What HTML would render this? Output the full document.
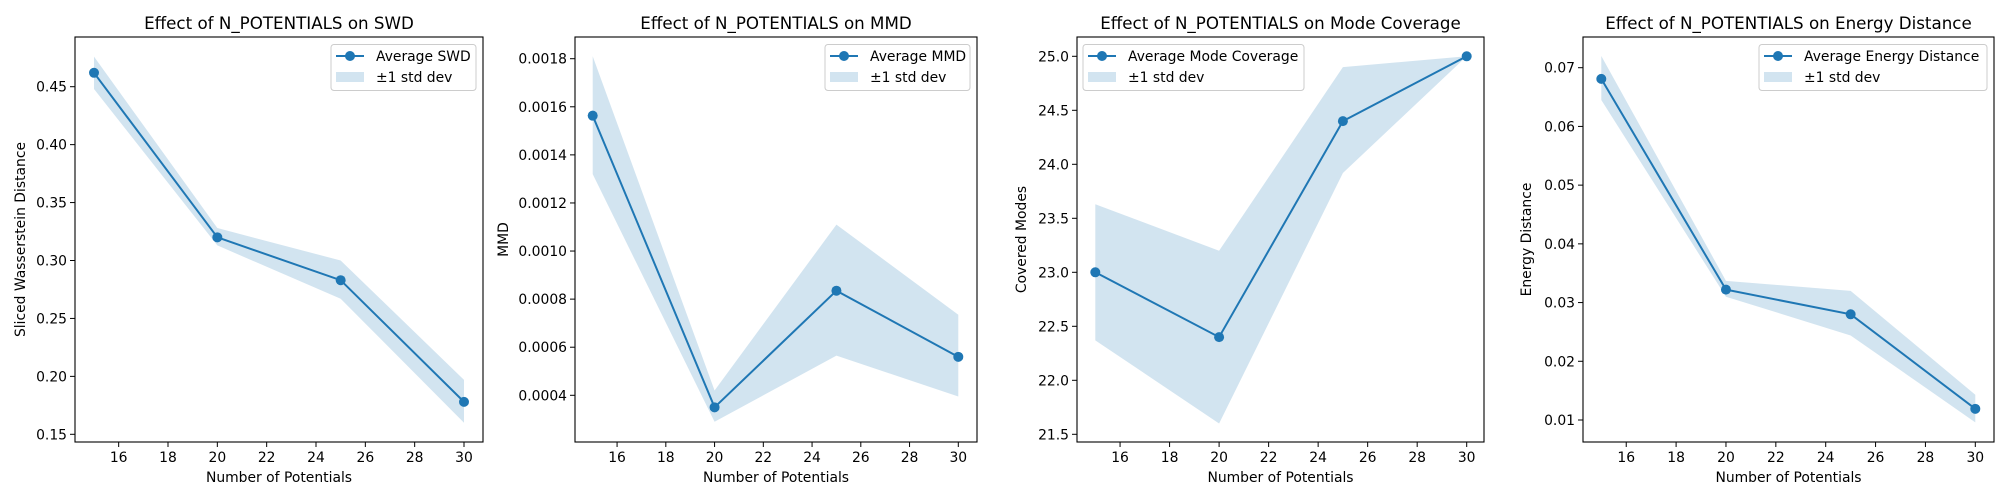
<!DOCTYPE html>
<html><head><meta charset="utf-8"><style>
html,body{margin:0;padding:0;background:#fff;}
svg{display:block;font-family:"DejaVu Sans","Liberation Sans",sans-serif;}
</style></head><body>
<svg id="fig" width="2000" height="500" viewBox="0 0 2000 500"></svg>
<script>
const xValues = [15, 20, 25, 30];
const xTicks = [16, 18, 20, 22, 24, 26, 28, 30];
const swdMean = [0.462, 0.320, 0.283, 0.178];
const swdUpper = [0.476, 0.328, 0.300, 0.197];
const swdLower = [0.448, 0.313, 0.267, 0.160];
const swdTicks = ["0.15","0.20","0.25","0.30","0.35","0.40","0.45"];
const mmdMean = [0.001563, 0.000350, 0.000835, 0.000560];
const mmdUpper = [0.00181, 0.00042, 0.00111, 0.000735];
const mmdLower = [0.00132, 0.00029, 0.000565, 0.000395];
const mmdTicks = ["0.0004","0.0006","0.0008","0.0010","0.0012","0.0014","0.0016","0.0018"];
const modeMean = [23.0, 22.4, 24.4, 25.0];
const modeUpper = [23.63, 23.2, 24.9, 25.0];
const modeLower = [22.37, 21.6, 23.92, 25.0];
const modeTicks = ["21.5","22.0","22.5","23.0","23.5","24.0","24.5","25.0"];
const enMean = [0.0681, 0.0322, 0.0280, 0.0119];
const enUpper = [0.0720, 0.0337, 0.0320, 0.0143];
const enLower = [0.0645, 0.0310, 0.0244, 0.0096];
const enTicks = ["0.01","0.02","0.03","0.04","0.05","0.06","0.07"];

const NS = "http://www.w3.org/2000/svg";
const svg = document.getElementById("fig");
function mk(tag, attrs, parent, text){
  const e = document.createElementNS(NS, tag);
  for (const k in attrs) e.setAttribute(k, attrs[k]);
  if (text !== undefined) e.textContent = text;
  parent.appendChild(e);
  return e;
}
const TOP = 37, BOT = 442;
const panels = [
  {key:"swd", title:"Effect of N_POTENTIALS on SWD", ylabel:"Sliced Wasserstein Distance", legend:"Average SWD",
   left:75, right:483, x15:94, x30:464, ya:0.45, ypa:86.7, yb:0.15, ypb:434.3, ylx:20, legRight:true, legW:145,
   mean:swdMean, up:swdUpper, lo:swdLower, ticks:swdTicks},
  {key:"mmd", title:"Effect of N_POTENTIALS on MMD", ylabel:"MMD", legend:"Average MMD",
   left:575, right:977, x15:592.7, x30:958.3, ya:0.0018, ypa:58.7, yb:0.0004, ypb:395.3, ylx:503, legRight:true, legW:145,
   mean:mmdMean, up:mmdUpper, lo:mmdLower, ticks:mmdTicks},
  {key:"mode", title:"Effect of N_POTENTIALS on Mode Coverage", ylabel:"Covered Modes", legend:"Average Mode Coverage",
   left:1077, right:1484, x15:1095.3, x30:1466.7, ya:25.0, ypa:56.3, yb:21.5, ypb:434.3, ylx:1021, legRight:false, legW:221,
   mean:modeMean, up:modeUpper, lo:modeLower, ticks:modeTicks},
  {key:"energy", title:"Effect of N_POTENTIALS on Energy Distance", ylabel:"Energy Distance", legend:"Average Energy Distance",
   left:1583, right:1994, x15:1601.3, x30:1975.3, ya:0.07, ypa:67.7, yb:0.01, ypb:420, ylx:1526, legRight:true, legW:228,
   mean:enMean, up:enUpper, lo:enLower, ticks:enTicks}
];
const C = "#1f77b4";
panels.forEach(p => {
  const g = mk("g", {}, svg);
  
  
  const sx = v => p.x15 + (v - 15) * (p.x30 - p.x15) / 15;
  const sy = v => p.ypa + (v - p.ya) * (p.ypb - p.ypa) / (p.yb - p.ya);
  let pts = xValues.map((x,i)=>sx(x)+","+sy(p.up[i]));
  pts = pts.concat(xValues.map((x,i)=>sx(x)+","+sy(p.lo[i])).reverse());
  const band = mk("polygon", {points:pts.join(" "), fill:C, "fill-opacity":"0.2", stroke:"none"}, g);
  
  
  const line = mk("polyline", {points:xValues.map((x,i)=>sx(x)+","+sy(p.mean[i])).join(" "), fill:"none", stroke:C, "stroke-width":"2"}, g);
  
  
  xValues.forEach((x,i)=>{
    const c = mk("circle", {cx:sx(x), cy:sy(p.mean[i]), r:"5", fill:C}, g);
    
    
  });
  const fr = mk("rect", {x:p.left, y:TOP, width:p.right-p.left, height:BOT-TOP, fill:"none", stroke:"#000", "stroke-width":"1.1"}, g);
  
  
  xTicks.forEach(t=>{
    const x = sx(t);
    mk("line", {x1:x, x2:x, y1:BOT, y2:BOT+5, stroke:"#000", "stroke-width":"1"}, g);
    const tl = mk("text", {x:x, y:462, "font-size":"13.9", "text-anchor":"middle"}, g, String(t));
    
    
  });
  p.ticks.forEach(t=>{
    const y = sy(parseFloat(t));
    mk("line", {x1:p.left-5, x2:p.left, y1:y, y2:y, stroke:"#000", "stroke-width":"1"}, g);
    const tl = mk("text", {x:p.left-8, y:y+5, "font-size":"13.9", "text-anchor":"end"}, g, t);
    
    
  });
  const ti = mk("text", {x:(p.left+p.right)/2, y:29, "font-size":"16.7", "text-anchor":"middle"}, g, p.title);
  
  
  const xl = mk("text", {x:(p.left+p.right)/2, y:482, "font-size":"13.9", "text-anchor":"middle"}, g, "Number of Potentials");
  
  
  const yc = (TOP+BOT)/2;
  const yl = mk("text", {x:p.ylx+5, y:yc, "font-size":"13.9", "text-anchor":"middle", transform:"rotate(-90 "+(p.ylx+5)+" "+yc+")"}, g, p.ylabel);
  
  
  const lx = p.legRight ? p.right - 7 - p.legW : p.left + 6;
  const lg = mk("g", {}, g);
  
  
  mk("rect", {x:lx, y:44.5, width:p.legW, height:46, rx:"3", fill:"#fff", "fill-opacity":"0.8", stroke:"#ccc", "stroke-width":"1"}, lg);
  mk("line", {x1:lx+5, x2:lx+33, y1:56, y2:56, stroke:C, "stroke-width":"2"}, lg);
  mk("circle", {cx:lx+19, cy:56, r:"5", fill:C}, lg);
  const e1 = mk("text", {x:lx+45, y:61, "font-size":"13.9"}, lg, p.legend);
  
  
  mk("rect", {x:lx+5, y:72, width:28, height:10, fill:C, "fill-opacity":"0.2"}, lg);
  const e2 = mk("text", {x:lx+45, y:82, "font-size":"13.9"}, lg, "±1 std dev");
  
  
});
</script>
</body></html>
